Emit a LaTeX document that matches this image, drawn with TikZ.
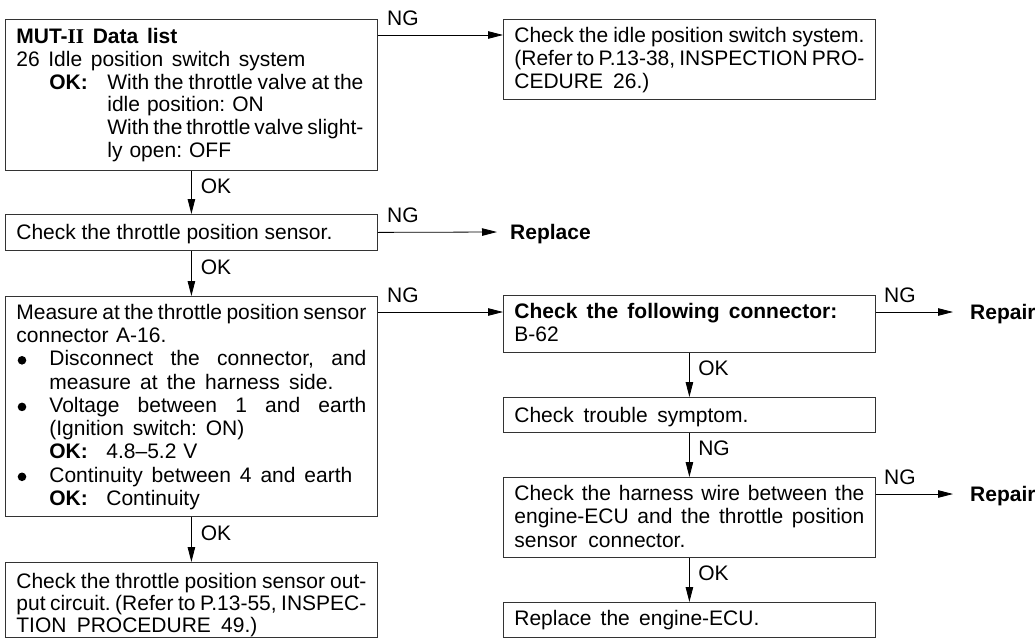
\documentclass[tikz,border=0pt]{standalone}
\usepackage{fontspec}
\setmainfont{Liberation Sans}
\newfontfamily\serifb{Liberation Serif}
\usetikzlibrary{arrows.meta}
\hbadness=10000
\hfuzz=40pt
\frenchspacing
\newcommand\J[2]{\leavevmode{\frenchspacing\spaceskip=0.278em plus 3em minus 0.17em\relax\hbox to #1{#2}}}
\begin{document}
\begin{tikzpicture}[x=1pt,y=-1pt,
  box/.style={draw=black!80, line width=0.8pt, anchor=north west, inner xsep=11pt, inner ysep=0pt,
    text width=350pt, align=left, font=\fontsize{21}{22.8}\selectfont\frenchspacing},
  arr/.style={line width=0.8pt, -{Triangle[length=15pt,width=7.5pt]}},
  lbl/.style={font=\fontsize{21}{22.8}\selectfont, inner sep=0pt, text height=15pt, text depth=0pt},
  lblb/.style={lbl, font=\fontsize{21}{22.8}\selectfont\bfseries}
]
\useasboundingbox (0,0) rectangle (1035,637);

% left column
\node[box, text height=24pt, text depth=127pt] (L1) at (5,19) {%
\J{161pt}{\textbf{MUT-{\serifb II} Data list}}\\
\J{289pt}{26 Idle position switch system}\\
\hspace*{33pt}\makebox[58pt][l]{\textbf{OK:}}\J{256pt}{With the throttle valve at the}\\
\hspace*{91pt}idle position: ON\\
\hspace*{91pt}\J{256pt}{With the throttle valve slight-}\\
\hspace*{91pt}ly open: OFF};

\node[box, text height=25pt, text depth=11pt] (L2) at (5,214) {\J{316pt}{Check the throttle position sensor.}};

\node[box, font=\fontsize{21}{23.3}\selectfont\frenchspacing, text height=22.7pt, text depth=197.3pt] (L3) at (5,296) {%
\J{350pt}{Measure at the throttle position sensor}\\
\J{150pt}{connector A-16.}\\
\hspace*{33pt}\J{317pt}{Disconnect the connector, and}\\
\hspace*{33pt}\J{284pt}{measure at the harness side.}\\
\hspace*{33pt}\J{317pt}{Voltage between 1 and earth}\\
\hspace*{33pt}\J{195pt}{(Ignition switch: ON)}\\
\hspace*{33pt}\makebox[57pt][l]{\textbf{OK:}}4.8–5.2 V\\
\hspace*{33pt}\J{303pt}{Continuity between 4 and earth}\\
\hspace*{33pt}\makebox[57pt][l]{\textbf{OK:}}Continuity};

\fill ([shift={(17,64.3)}]L3.north west) circle (4.3pt);
\fill ([shift={(17,110.9)}]L3.north west) circle (4.3pt);
\fill ([shift={(17,180.8)}]L3.north west) circle (4.3pt);

\node[box, font=\fontsize{21}{22}\selectfont\frenchspacing, text height=26pt, text depth=48.5pt] (L4) at (5,562) {%
\J{350pt}{Check the throttle position sensor out-}\\
\J{350pt}{put circuit. (Refer to P.13-55, INSPEC-}\\
\J{241pt}{TION PROCEDURE 49.)}};

% right column
\node[box, text height=23pt, text depth=57pt] (RT) at (503,19) {%
\J{350pt}{Check the idle position switch system.}\\
\J{350pt}{(Refer to P.13-38, INSPECTION PRO-}\\
\J{135pt}{CEDURE 26.)}};

\node[lblb, anchor=west] (rep) at (510,232) {Replace};

\node[box, text height=23.3pt, text depth=33.7pt] (R1) at (503,295) {%
\J{323pt}{\textbf{Check the following connector:}}\\
B-62};

\node[box, text height=24.7pt, text depth=10.3pt] (R2) at (503,397) {\J{234pt}{Check trouble symptom.}};

\node[box, font=\fontsize{21}{23.3}\selectfont\frenchspacing, text height=23pt, text depth=57pt] (R3) at (503,477) {%
\J{350pt}{Check the harness wire between the}\\
\J{350pt}{engine-ECU and the throttle position}\\
\J{171pt}{sensor connector.}};

\node[box, text height=23pt, text depth=11.5pt] (R4) at (503,602) {\J{245pt}{Replace the engine-ECU.}};

\node[lblb, anchor=west] (rp1) at (970,312) {Repair};
\node[lblb, anchor=west] (rp2) at (970,494) {Repair};

% connectors
\draw[arr] ([yshift=-16pt]L1.north east) -- ([yshift=-16pt]L1.north east -| RT.west)
  node[lbl, pos=0, anchor=base west, xshift=9pt, yshift=10pt] {NG};
\draw[arr] (L2.east) -- ([xshift=-13pt]rep.west)
  node[lbl, pos=0, anchor=base west, xshift=9pt, yshift=10pt] {NG};
\draw[arr] ([yshift=-16pt]L3.north east) -- ([yshift=-16pt]L3.north east -| R1.west)
  node[lbl, pos=0, anchor=base west, xshift=9pt, yshift=10pt] {NG};
\draw[arr] (R1.north east |- rp1.west) -- ([xshift=-17pt]rp1.west)
  node[lbl, pos=0, anchor=base west, xshift=8pt, yshift=10pt] {NG};
\draw[arr] (R3.north east |- rp2.west) -- ([xshift=-17pt]rp2.west)
  node[lbl, pos=0, anchor=base west, xshift=8pt, yshift=10pt] {NG};

\draw[arr] (L1.south) -- (L2.north) node[lbl, pos=0.35, anchor=west, xshift=9pt] {OK};
\draw[arr] (L2.south) -- (L3.north) node[lbl, pos=0.35, anchor=west, xshift=9pt] {OK};
\draw[arr] (L3.south) -- (L4.north) node[lbl, pos=0.35, anchor=west, xshift=9pt] {OK};
\draw[arr] (R1.south) -- (R2.north) node[lbl, pos=0.35, anchor=west, xshift=8.5pt] {OK};
\draw[arr] (R2.south) -- (R3.north) node[lbl, pos=0.35, anchor=west, xshift=8.5pt] {NG};
\draw[arr] (R3.south) -- (R4.north) node[lbl, pos=0.35, anchor=west, xshift=8.5pt] {OK};
\end{tikzpicture}
\end{document}
